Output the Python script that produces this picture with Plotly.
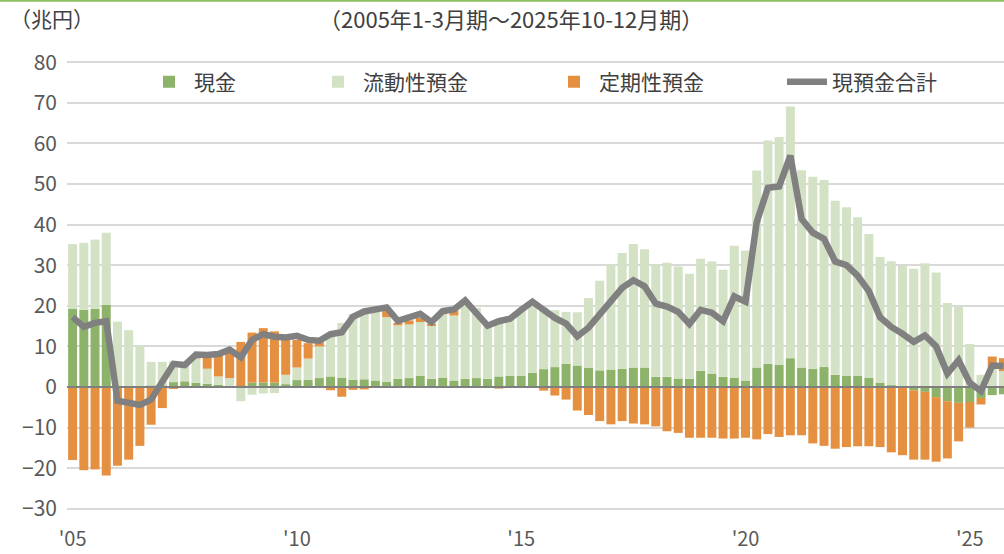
import plotly.graph_objects as go

# Quarterly periods 2005Q1 .. 2025Q4
quarters = [f"{y}Q{q}" for y in range(2005, 2026) for q in range(1, 5)]

# 現金 (cash), 兆円
cash = [19.3, 19.0, 19.3, 20.2, 0.1, 0.1, 0.1, 0.3, 0.3, 1.2,
        1.4, 1.0, 0.8, 0.5, 0.2, 0.3, 1.1, 1.1, 1.1, 0.7,
        1.7, 1.8, 2.2, 2.6, 2.3, 1.8, 1.9, 1.6, 1.3, 2.0,
        2.2, 2.8, 2.0, 2.3, 1.6, 2.0, 2.2, 2.0, 2.6, 2.7,
        2.7, 3.5, 4.4, 4.9, 5.7, 5.3, 4.7, 4.1, 4.3, 4.5,
        4.8, 4.8, 2.5, 2.5, 2.1, 2.0, 4.0, 3.3, 2.5, 2.3,
        1.6, 4.8, 5.7, 5.5, 7.1, 4.8, 4.5, 4.9, 3.0, 2.7,
        2.7, 2.3, 1.0, 0.4, 0.1, -0.8, -1.2, -2.5, -3.5, -3.9,
        -3.7, -2.7, -2.0, -1.8]

# 流動性預金 (demand deposits)
liquid = [15.9, 16.5, 17.0, 17.8, 16.0, 13.9, 10.1, 5.9, 5.9, 5.1,
          4.0, 6.0, 3.7, 2.1, 2.0, -3.5, -1.9, -1.6, -1.5, 2.3,
          3.1, 5.2, 7.8, 10.5, 13.5, 16.2, 16.9, 17.7, 15.9, 13.2,
          13.2, 13.2, 13.2, 15.6, 16.0, 19.3, 17.3, 12.9, 13.5, 14.3,
          16.3, 17.2, 15.2, 14.0, 12.8, 13.1, 17.2, 22.1, 25.8, 28.5,
          30.4, 29.1, 27.6, 28.1, 27.6, 25.9, 27.6, 27.6, 26.4, 32.5,
          32.0, 48.5, 55.0, 56.1, 62.0, 48.6, 47.3, 46.1, 42.9, 41.6,
          39.1, 35.4, 31.0, 30.6, 29.8, 29.1, 30.5, 28.2, 20.7, 19.8,
          10.6, 3.0, 4.8, 3.9]

# 定期性預金 (time deposits)
time_dep = [-18.0, -20.5, -20.3, -21.8, -19.4, -17.9, -14.5, -9.3, -5.2, -0.5,
            0.0, 0.8, 3.0, 5.4, 6.4, 10.8, 12.3, 13.4, 12.6, 8.6,
            6.8, 3.8, 1.2, -0.8, -2.4, -0.7, -0.6, -0.1, 1.9, 0.6,
            1.0, 1.0, 0.4, 0.9, 1.3, 0.0, 0.0, 0.0, -0.4, 0.0,
            0.0, 0.0, -0.9, -2.1, -3.1, -5.8, -6.9, -8.4, -9.2, -8.4,
            -9.0, -9.2, -9.7, -10.9, -11.3, -12.5, -12.5, -12.5, -12.7, -12.7,
            -12.5, -12.9, -11.6, -12.3, -11.9, -11.9, -13.9, -14.5, -15.2, -14.8,
            -14.6, -14.6, -14.8, -16.1, -16.8, -17.1, -16.7, -15.9, -14.1, -9.5,
            -6.3, -1.6, 2.7, 3.2]

# 現預金合計 (total)
total = [17.2, 14.8, 15.8, 16.2, -3.4, -3.9, -4.4, -3.1, 1.0, 5.7,
         5.4, 8.0, 7.9, 8.1, 9.2, 7.3, 11.6, 13.0, 12.4, 12.2,
         12.6, 11.6, 11.4, 13.0, 13.5, 17.3, 18.6, 19.3, 19.6, 16.3,
         17.2, 18.0, 16.0, 18.7, 19.1, 21.3, 18.2, 15.1, 16.2, 16.8,
         19.0, 21.0, 19.0, 17.0, 15.6, 12.5, 14.6, 17.8, 20.8, 24.4,
         26.3, 24.8, 20.5, 19.8, 18.5, 15.5, 19.0, 18.3, 16.2, 22.3,
         21.0, 40.6, 49.1, 49.4, 57.0, 41.4, 38.0, 36.5, 30.9, 30.0,
         27.4, 23.6, 17.2, 14.8, 13.1, 11.1, 12.7, 10.0, 3.3, 6.6,
         1.0, -1.0, 5.3, 5.2]

tick_vals = ["2005Q1", "2010Q1", "2015Q1", "2020Q1", "2025Q1"]
tick_text = ["'05", "'10", "'15", "'20", "'25"]
y_ticks = [80, 70, 60, 50, 40, 30, 20, 10, 0, -10, -20, -30]

FONT = "Noto Sans CJK JP, Noto Sans, sans-serif"
C_CASH = "#8cb369"
C_LIQ = "#d3e1c4"
C_TIME = "#e59040"
C_LINE = "#808080"
C_TICK = "#595959"
C_TEXT = "#404040"

W, H = 1004, 554
ML, MR, MT, MB = 67, 0, 61, 44
PW, PH = W - ML - MR, H - MT - MB


def px_x(px):
    return (px - ML) / PW


def px_y(py):
    return (H - MB - py) / PH


fig = go.Figure()
fig.add_trace(go.Bar(x=quarters, y=cash, name="現金", marker_color=C_CASH,
                     marker_line_width=0, legend="legend"))
fig.add_trace(go.Bar(x=quarters, y=liquid, name="流動性預金", marker_color=C_LIQ,
                     marker_line_width=0, legend="legend2"))
fig.add_trace(go.Bar(x=quarters, y=time_dep, name="定期性預金", marker_color=C_TIME,
                     marker_line_width=0, legend="legend3"))
fig.add_trace(go.Scatter(x=quarters, y=total, name="現預金合計", mode="lines",
                         line=dict(color=C_LINE, width=6.5, shape="linear"),
                         legend="legend4"))

leg_common = dict(orientation="h", yanchor="middle", xanchor="left",
                  bgcolor="rgba(0,0,0,0)", font=dict(family=FONT, size=21, color=C_TEXT),
                  itemwidth=40)
ly = px_y(82)
fig.update_layout(
    legend=dict(x=px_x(144), y=ly, **leg_common),
    legend2=dict(x=px_x(313), y=ly, **leg_common),
    legend3=dict(x=px_x(549), y=ly, **leg_common),
    legend4=dict(x=px_x(782), y=ly, **leg_common),
)

fig.update_layout(
    width=W, height=H,
    margin=dict(l=ML, r=MR, t=MT, b=MB, pad=0, autoexpand=False),
    paper_bgcolor="white", plot_bgcolor="white",
    barmode="relative", bargap=0.2,
    font=dict(family=FONT, size=21, color=C_TICK),
    showlegend=True,
    hovermode=False,
    xaxis=dict(type="category", categoryorder="array", categoryarray=quarters,
               range=[-0.5, 83.05], tickmode="array", tickvals=tick_vals,
               ticktext=tick_text, showgrid=False, zeroline=False, showline=False,
               ticks="", ticklabelstandoff=15, automargin=False,
               tickfont=dict(family=FONT, size=20, color=C_TICK)),
    yaxis=dict(range=[-30.3, 80.3], tickmode="array", tickvals=y_ticks,
               showgrid=True, gridcolor="#d9d9d9", gridwidth=1.6,
               zeroline=False, showline=False, ticks="", ticklabelstandoff=9,
               automargin=False,
               tickfont=dict(family=FONT, size=21, color=C_TICK)),
)

# zero axis line drawn above bars, like the original
fig.add_shape(type="line", xref="paper", yref="y", x0=0, x1=1, y0=0, y1=0,
              line=dict(color="#7f7f7f", width=2.2), layer="above")
# thin green rule at the very top of the picture
fig.add_shape(type="line", xref="paper", yref="paper", x0=px_x(0), x1=px_x(W),
              y0=px_y(0.8), y1=px_y(0.8), line=dict(color="#8cbf60", width=2))

fig.add_annotation(text="（兆円）", xref="paper", yref="paper", x=px_x(8), y=px_y(18),
                   xanchor="left", yanchor="middle", showarrow=False,
                   font=dict(family=FONT, size=21, color=C_TEXT))
fig.add_annotation(text="（2005年1-3月期～2025年10-12月期）", xref="paper", yref="paper",
                   x=px_x(511), y=px_y(18), xanchor="center", yanchor="middle",
                   showarrow=False, font=dict(family=FONT, size=22, color=C_TEXT))

fig.write_html("out.html", config={"displayModeBar": False},
               post_script="document.body.style.margin='0';document.body.style.overflow='hidden';")
